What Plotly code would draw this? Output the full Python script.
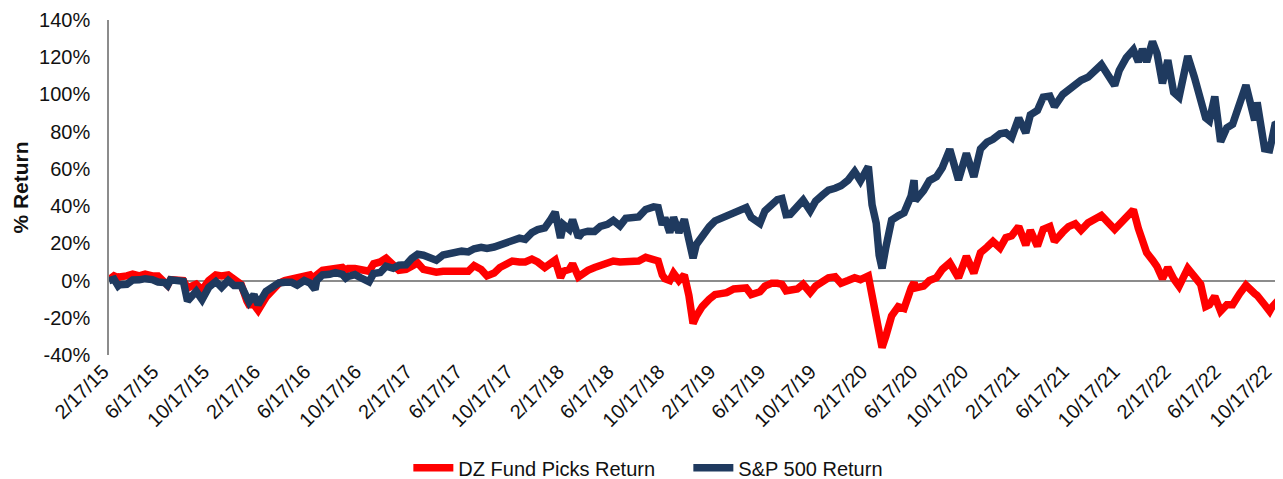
import plotly.graph_objects as go

# ---- data (percent return) ----
dates = [
    "2015-02-17","2015-03-01","2015-03-11","2015-03-15","2015-04-01","2015-04-15","2015-05-01","2015-05-15",
    "2015-06-01","2015-06-15","2015-07-01","2015-07-08","2015-07-15","2015-08-01","2015-08-15","2015-08-25",
    "2015-09-01","2015-09-15","2015-09-29","2015-10-15","2015-11-01","2015-11-15","2015-12-01","2015-12-15",
    "2016-01-01","2016-01-15","2016-01-20","2016-02-01","2016-02-11","2016-03-01","2016-03-15","2016-04-01",
    "2016-04-15","2016-05-01","2016-05-15","2016-06-01","2016-06-15","2016-06-27","2016-07-01","2016-07-15",
    "2016-08-01","2016-08-15","2016-09-01","2016-09-09","2016-09-15","2016-10-01","2016-10-15","2016-11-04",
    "2016-11-15","2016-12-01","2016-12-15","2017-01-01","2017-01-15","2017-02-01","2017-02-15","2017-03-01",
    "2017-03-15","2017-04-01","2017-04-15","2017-05-01","2017-05-15","2017-06-01","2017-06-15","2017-07-01",
    "2017-07-15","2017-08-01","2017-08-15","2017-09-01","2017-09-15","2017-10-01","2017-10-15","2017-11-01",
    "2017-11-15","2017-12-01","2017-12-15","2018-01-01","2018-01-15","2018-01-26","2018-02-08","2018-02-15",
    "2018-03-01","2018-03-09","2018-03-23","2018-04-01","2018-04-15","2018-05-01","2018-05-15","2018-06-01",
    "2018-06-15","2018-07-01","2018-07-15","2018-08-01","2018-08-15","2018-09-01","2018-09-20","2018-10-01",
    "2018-10-11","2018-10-17","2018-10-29","2018-11-07","2018-11-20","2018-12-03","2018-12-14","2018-12-24",
    "2019-01-01","2019-01-15","2019-02-01","2019-02-15","2019-03-01","2019-03-15","2019-04-01","2019-04-15",
    "2019-05-01","2019-05-13","2019-06-03","2019-06-15","2019-07-01","2019-07-15","2019-07-26","2019-08-05",
    "2019-08-15","2019-09-01","2019-09-15","2019-10-02","2019-10-15","2019-11-01","2019-11-15","2019-12-01",
    "2019-12-15","2020-01-01","2020-01-17","2020-01-31","2020-02-19","2020-02-28","2020-03-09","2020-03-16",
    "2020-03-23","2020-04-01","2020-04-15","2020-05-01","2020-05-15","2020-06-01","2020-06-08","2020-06-11",
    "2020-07-01","2020-07-15","2020-08-01","2020-08-15","2020-09-02","2020-09-23","2020-10-12","2020-10-30",
    "2020-11-15","2020-12-01","2020-12-15","2021-01-01","2021-01-15","2021-01-29","2021-02-15","2021-03-04",
    "2021-03-15","2021-04-01","2021-04-15","2021-05-01","2021-05-12","2021-06-01","2021-06-15","2021-07-01",
    "2021-07-15","2021-08-01","2021-08-15","2021-09-02","2021-10-04","2021-10-15","2021-11-01","2021-11-18",
    "2021-11-30","2021-12-10","2021-12-20","2022-01-03","2022-01-14","2022-01-27","2022-02-09","2022-02-23",
    "2022-03-08","2022-03-29","2022-04-14","2022-04-29","2022-05-11","2022-05-20","2022-06-02","2022-06-16",
    "2022-07-01","2022-07-15","2022-08-01","2022-08-16","2022-09-06","2022-09-12","2022-09-30","2022-10-12",
    "2022-10-17","2022-10-25","2022-10-31",
]

sp500_return = [
    0, 0.8, -2.9, -2.2, -2.0, 0.3, 0.4, 1.0,
    0.5, -0.8, -1.1, -2.6, 0.4, 0.2, -0.4, -11.0,
    -8.9, -5.8, -10.3, -3.7, -0.5, -3.7, 0.1, -2.7,
    -2.7, -10.5, -11.5, -7.6, -12.9, -5.8, -4.0, -1.3,
    -0.9, -0.9, -2.5, 0.0, -1.4, -4.8, 0.1, 3.0,
    3.4, 4.3, 3.3, 1.3, 2.2, 3.2, 1.5, -0.7,
    3.8, 4.3, 7.7, 6.6, 8.3, 8.5, 11.9, 14.1,
    13.6, 12.5, 10.9, 13.7, 14.4, 15.7, 15.8, 15.4,
    17.1, 17.9, 17.3, 18.0, 19.0, 20.4, 21.6, 22.8,
    22.1, 25.8, 27.4, 28.3, 32.7, 36.8, 22.9, 30.1,
    27.5, 32.7, 23.2, 25.7, 26.5, 26.4, 29.1, 30.2,
    32.3, 29.4, 33.4, 34.0, 34.2, 38.2, 39.6, 39.2,
    29.9, 33.8, 25.8, 34.0, 25.8, 32.9, 23.8, 12.0,
    19.4, 24.3, 28.9, 32.1, 33.5, 34.4, 36.5, 38.3,
    39.2, 33.9, 30.7, 37.4, 41.1, 43.5, 44.1, 35.4,
    35.6, 39.3, 43.2, 37.5, 42.7, 46.0, 48.6, 49.6,
    50.9, 53.9, 58.6, 53.6, 61.2, 40.7, 30.8, 13.6,
    6.5, 17.7, 32.5, 34.8, 36.4, 45.5, 53.9, 43.0,
    48.3, 53.7, 55.8, 60.6, 70.5, 54.1, 68.3, 55.7,
    70.7, 74.4, 75.9, 78.9, 79.4, 76.9, 87.3, 79.4,
    89.0, 91.4, 98.6, 99.1, 93.5, 100.0, 102.2, 105.7,
    107.6, 109.3, 112.8, 116.0, 104.8, 112.9, 119.7, 124.0,
    117.5, 124.4, 117.5, 128.4, 122.0, 106.0, 118.4, 101.2,
    98.6, 120.6, 109.2, 96.8, 87.4, 85.8, 98.9, 74.6,
    82.1, 84.0, 96.1, 105.0, 86.1, 95.7, 70.8, 70.3,
    75.1, 83.8, 84.4,
]

dz_return = [
    0.5, 2.5, 1.5, 2.0, 2.5, 3.5, 2.5, 3.5,
    2.5, 2.5, -1.0, -2.5, 0.5, 0.5, 0.0, -4.0,
    -3.0, -2.0, -5.0, 0.0, 3.0, 2.5, 3.0, 1.0,
    -2.0, -11.0, -13.0, -13.0, -16.0, -9.0, -5.0, -1.5,
    0.0, 1.0, 2.0, 2.5, 3.0, 0.0, 3.0, 5.5,
    6.0, 7.0, 7.0, 5.5, 6.5, 6.5, 6.0, 5.0,
    9.0, 10.0, 12.0, 8.0, 5.5, 6.0, 8.0, 9.5,
    6.0, 5.0, 4.5, 5.0, 5.0, 5.5, 5.0, 5.0,
    8.0, 6.0, 2.5, 4.0, 7.0, 9.0, 10.5, 10.0,
    10.0, 11.5, 10.0, 7.0, 9.0, 11.0, 1.5, 5.0,
    6.0, 9.0, 2.0, 3.5, 5.5, 7.0, 8.0, 9.5,
    10.5, 10.0, 10.0, 10.0, 10.5, 12.5, 11.0, 10.5,
    3.0, 1.0, 0.0, 4.0, 0.0, 3.0, -8.0, -23.0,
    -19.0, -14.0, -10.0, -7.5, -7.0, -6.5, -4.5, -4.0,
    -4.0, -7.5, -6.0, -3.0, -1.5, -1.5, -2.0, -5.5,
    -5.0, -4.5, -2.0, -6.5, -3.0, 0.0, 1.5, 2.0,
    -1.5, 0.0, 1.5, 0.5, 2.5, -8.0, -20.0, -30.0,
    -36.0, -30.0, -19.0, -14.0, -15.0, -4.0, -1.0, -4.0,
    -3.0, 0.0, 1.5, 6.0, 9.5, 1.5, 13.0, 4.0,
    15.0, 18.0, 21.0, 17.5, 23.0, 24.0, 29.0, 19.0,
    27.0, 18.5, 27.5, 29.0, 21.0, 26.0, 29.0, 30.5,
    27.0, 31.0, 33.0, 35.0, 27.5, 30.0, 33.0, 38.0,
    28.0, 21.0, 15.0, 11.0, 7.5, 1.0, 7.0, 1.0,
    -3.0, 6.5, 2.5, -2.0, -14.0, -13.0, -8.5, -16.5,
    -13.0, -13.0, -7.0, -2.5, -7.0, -8.0, -13.0, -16.5,
    -14.5, -12.5, -11.0,
]

tick_dates = [
    "2015-02-17","2015-06-17","2015-10-17","2016-02-17","2016-06-17","2016-10-17",
    "2017-02-17","2017-06-17","2017-10-17","2018-02-17","2018-06-17","2018-10-17",
    "2019-02-17","2019-06-17","2019-10-17","2020-02-17","2020-06-17","2020-10-17",
    "2021-02-17","2021-06-17","2021-10-17","2022-02-17","2022-06-17","2022-10-17",
]
tick_labels = [
    "2/17/15","6/17/15","10/17/15","2/17/16","6/17/16","10/17/16",
    "2/17/17","6/17/17","10/17/17","2/17/18","6/17/18","10/17/18",
    "2/17/19","6/17/19","10/17/19","2/17/20","6/17/20","10/17/20",
    "2/17/21","6/17/21","10/17/21","2/17/22","6/17/22","10/17/22",
]
y_ticks = [-40, -20, 0, 20, 40, 60, 80, 100, 120, 140]
y_tick_labels = ["-40%", "-20%", "0%", "20%", "40%", "60%", "80%", "100%", "120%", "140%"]

RED = "#FF0000"
NAVY = "#1F3A5F"
FONT = "Liberation Sans, Arial, sans-serif"
TXT = "#111111"

fig = go.Figure()
fig.add_trace(go.Scatter(x=dates, y=dz_return, mode="lines", name="DZ Fund Picks Return",
                         line=dict(color=RED, width=7.5)))
fig.add_trace(go.Scatter(x=dates, y=sp500_return, mode="lines", name="S&P 500 Return",
                         line=dict(color=NAVY, width=7.5)))

# the page places the figure 8px from the top-left corner, so the figure is
# sized 1275x471 to fill the 1283x479 window
fig.update_layout(
    template="none",
    width=1275, height=471,
    margin=dict(l=101, r=3, t=12, b=124, autoexpand=False),
    paper_bgcolor="white", plot_bgcolor="white",
    font=dict(family=FONT, size=20, color=TXT),
    showlegend=True,
    legend=dict(orientation="h", xref="container", x=0.314, xanchor="left",
                yref="container", y=0.024, yanchor="middle",
                font=dict(size=20, color=TXT), itemwidth=40, tracegroupgap=0,
                entrywidth=225, entrywidthmode="pixels",
                bgcolor="rgba(0,0,0,0)"),
)
fig.update_xaxes(
    type="date", range=["2015-02-17", "2022-11-06"], automargin=False,
    tickmode="array", tickvals=tick_dates, ticktext=tick_labels,
    tickangle=-45, tickfont=dict(size=20, color=TXT), ticklabelshift=-6,
    showgrid=False, showline=False, zeroline=False, ticks="",
)
fig.update_yaxes(
    range=[-40, 140], automargin=False,
    tickmode="array", tickvals=y_ticks, ticktext=y_tick_labels,
    tickfont=dict(size=20, color=TXT),
    showgrid=False, showline=True, linecolor="#8c8c8c", linewidth=1.5,
    zeroline=True, zerolinecolor="#8c8c8c", zerolinewidth=2,
    title=dict(text="<b>% Return</b>", font=dict(size=21, color=TXT), standoff=5),
    ticks="", ticklabelstandoff=13,
)

fig.write_html("out.html")
